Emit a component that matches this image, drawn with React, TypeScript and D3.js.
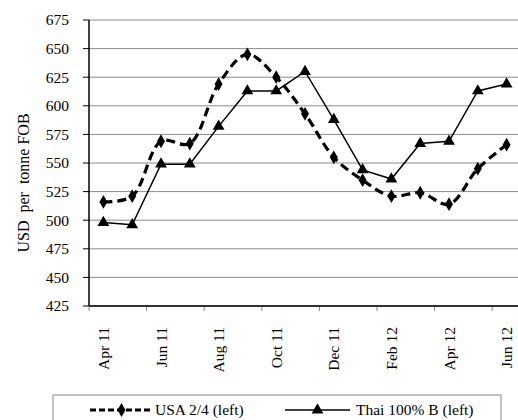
import React from "react";
import * as d3 from "d3";

const months = ["Apr 11","May 11","Jun 11","Jul 11","Aug 11","Sep 11","Oct 11","Nov 11","Dec 11","Jan 12","Feb 12","Mar 12","Apr 12","May 12","Jun 12"];
const usa = [516, 521, 569, 567, 619, 645, 625, 593, 555, 535, 521, 524, 514, 545, 566];
const thai = [498, 496, 549, 549, 582, 613, 613, 630, 588, 544, 536, 567, 569, 613, 619];
const yTicks = [425, 450, 475, 500, 525, 550, 575, 600, 625, 650, 675];
const seriesNames = ["USA 2/4 (left)", "Thai 100% B (left)"];
const yTitle = "USD\u00a0\u00a0per\u00a0\u00a0tonne FOB";

const W = 518, H = 420;
const L = 89, T = 20, B = 306, STEP = 28.8;
const R = L + months.length * STEP;
const FONT = "'Liberation Serif', 'Times New Roman', serif";
const FS = 15.5;
const ts: React.CSSProperties = { fontFamily: FONT, fontSize: FS };

export default function App() {
  const x = d3.scaleBand<string>().domain(months).range([L, R]).paddingInner(0).paddingOuter(0);
  const cx = (m: string) => (x(m) as number) + x.bandwidth() / 2;
  const y = d3.scaleLinear().domain([425, 675]).range([B, T]);

  const usaLine = d3.line<number>().x((_, i) => cx(months[i])).y((d) => y(d)).curve(d3.curveCatmullRom.alpha(0.5))(usa) || "";
  const thaiLine = d3.line<number>().x((_, i) => cx(months[i])).y((d) => y(d))(thai) || "";

  const diamond = d3.symbol().type(d3.symbolDiamond).size(55)() || "";
  const triangle = d3.symbol().type(d3.symbolTriangle).size(60)() || "";

  const boundaries = months.map((_, i) => i).filter((i) => i % 2 === 0).map((i) => x(months[i]) as number);
  boundaries.push(R);

  return (
    <svg width={W} height={H} style={{ position: "absolute", left: 0, top: 0, background: "#fff" }}>
      <rect x={0} y={0} width={W} height={H} fill="#fff" />
      {yTicks.map((t) => (
        <g key={t}>
          <line x1={L} x2={R} y1={y(t)} y2={y(t)} stroke="#8a8a8a" strokeWidth={1} />
          <line x1={L - 6} x2={L} y1={y(t)} y2={y(t)} stroke="#000" strokeWidth={1} />
          <text x={69} y={y(t)} dy="0.35em" textAnchor="end" style={ts}>{t}</text>
        </g>
      ))}
      {boundaries.map((bx, i) => (
        <line key={i} x1={bx} x2={bx} y1={B} y2={B + 5} stroke="#888" strokeWidth={1} />
      ))}
      <line x1={L} x2={L} y1={T} y2={B} stroke="#000" strokeWidth={1.5} />
      <line x1={L} x2={R} y1={B} y2={B} stroke="#000" strokeWidth={1.5} />
      {months.map((m, i) =>
        i % 2 === 0 ? (
          <text key={m} transform={`translate(${cx(m) + 5.5},327) rotate(-90)`} textAnchor="end" style={ts}>{m}</text>
        ) : null
      )}
      <text transform={`translate(29,183) rotate(-90)`} textAnchor="middle" style={{ ...ts, fontSize: 16 }}>{yTitle}</text>

      <path d={thaiLine} fill="none" stroke="#000" strokeWidth={1.5} />
      {thai.map((v, i) => (
        <path key={i} d={triangle} transform={`translate(${cx(months[i])},${y(v)})`} fill="#000" />
      ))}
      <path d={usaLine} fill="none" stroke="#000" strokeWidth={3.2} strokeDasharray="9,5" />
      {usa.map((v, i) => (
        <path key={i} d={diamond} transform={`translate(${cx(months[i])},${y(v)})`} fill="#000" />
      ))}

      <rect x={53} y={395} width={448} height={40} fill="none" stroke="#888" strokeWidth={1} />
      <line x1={90} x2={152} y1={410} y2={410} stroke="#000" strokeWidth={3} strokeDasharray="6,3" />
      <path d={diamond} transform="translate(121.5,410)" fill="#000" />
      <text x={155} y={410} dy="0.35em" style={ts}>{seriesNames[0]}</text>
      <line x1={285} x2={350} y1={410} y2={410} stroke="#000" strokeWidth={1.5} />
      <path d={triangle} transform="translate(317.5,410)" fill="#000" />
      <text x={356} y={410} dy="0.35em" style={ts}>{seriesNames[1]}</text>
    </svg>
  );
}
